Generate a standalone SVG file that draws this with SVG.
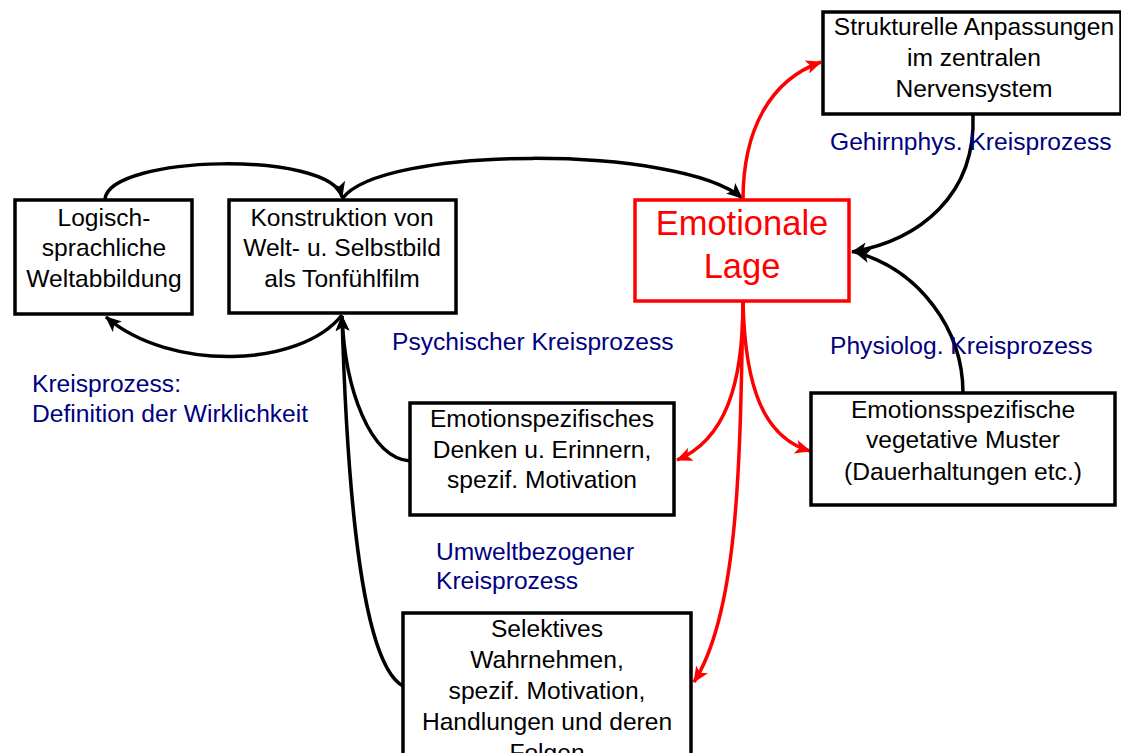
<svg xmlns="http://www.w3.org/2000/svg" width="1121" height="753" viewBox="0 0 1121 753">
<defs>
<marker id="ab" markerUnits="userSpaceOnUse" markerWidth="16" markerHeight="14" refX="15" refY="7" orient="auto"><path d="M0,0 L16,7 L0,14 L4,7 Z" fill="#000"/></marker>
<marker id="ar" markerUnits="userSpaceOnUse" markerWidth="16" markerHeight="14" refX="15" refY="7" orient="auto"><path d="M0,0 L16,7 L0,14 L4,7 Z" fill="#ff0000"/></marker>
</defs>
<style>
text{font-family:"Liberation Sans",Arial,sans-serif;font-size:24.6px;}
.box{fill:#fff;stroke:#000;stroke-width:3.5;}
.t{fill:#000;text-anchor:middle;}
.lbl{fill:#000080;}
.cb{fill:none;stroke:#000;stroke-width:3.5;marker-end:url(#ab);}
.cr{fill:none;stroke:#ff0000;stroke-width:3.5;marker-end:url(#ar);}
</style>
<rect width="1121" height="753" fill="#fff"/>
<g id="connectors">
<path class="cb" d="M105,199 C110,155 330,150 342,197"/>
<path class="cb" d="M342,199 C380,145 680,145 742,198"/>
<path class="cb" d="M342,315 C300,368 170,372 106,317"/>
<path class="cb" d="M410,461 C370,458 345,390 342,316"/>
<path class="cb" d="M403,686 C365,665 348,520 342,316"/>
<path class="cr" d="M743,200 C743,130 770,80 821,62"/>
<path class="cb" d="M973,115 C976,195 920,240 852,252"/>
<path class="cb" d="M963,393 C963,330 920,270 855,252"/>
<path class="cr" d="M743,302 C743,385 725,440 677,460"/>
<path class="cr" d="M743,302 C745,390 765,438 810,451"/>
<path class="cr" d="M743,302 C740,450 740,610 694,682"/>
</g>
<g id="n-logisch">
<rect class="box" x="15" y="200" width="177" height="114"/>
<text class="t" x="104" y="226">Logisch-</text>
<text class="t" x="104" y="256">sprachliche</text>
<text class="t" x="104" y="287">Weltabbildung</text>
</g>
<g id="n-konstruktion">
<rect class="box" x="229" y="200" width="227" height="113"/>
<text class="t" x="342" y="226">Konstruktion von</text>
<text class="t" x="342" y="256">Welt- u. Selbstbild</text>
<text class="t" x="342" y="287">als Tonfühlfilm</text>
</g>
<g id="n-emotionale">
<rect x="635" y="200" width="214" height="101" fill="#fff" stroke="#ff0000" stroke-width="3.5"/>
<text x="742" y="235" fill="#ff0000" text-anchor="middle" style="font-size:34.5px">Emotionale</text>
<text x="742" y="278" fill="#ff0000" text-anchor="middle" style="font-size:34.5px">Lage</text>
</g>
<g id="n-strukturelle">
<rect class="box" x="823" y="12" width="298" height="102"/>
<text class="t" x="974" y="35">Strukturelle Anpassungen</text>
<text class="t" x="974" y="66">im zentralen</text>
<text class="t" x="974" y="97">Nervensystem</text>
</g>
<g id="n-denken">
<rect class="box" x="410" y="403" width="264" height="112"/>
<text class="t" x="542" y="427">Emotionspezifisches</text>
<text class="t" x="542" y="458">Denken u. Erinnern,</text>
<text class="t" x="542" y="488">spezif. Motivation</text>
</g>
<g id="n-vegetativ">
<rect class="box" x="811" y="393" width="304" height="112"/>
<text class="t" x="963" y="418">Emotionsspezifische</text>
<text class="t" x="963" y="448">vegetative Muster</text>
<text class="t" x="963" y="480">(Dauerhaltungen etc.)</text>
</g>
<g id="n-selektiv">
<rect class="box" x="403" y="613" width="288" height="160"/>
<text class="t" x="547" y="637">Selektives</text>
<text class="t" x="547" y="668">Wahrnehmen,</text>
<text class="t" x="547" y="699">spezif. Motivation,</text>
<text class="t" x="547" y="730">Handlungen und deren</text>
<text class="t" x="547" y="761">Folgen</text>
</g>
<g id="labels">
<text class="lbl" x="830" y="150">Gehirnphys. Kreisprozess</text>
<text class="lbl" x="392" y="350">Psychischer Kreisprozess</text>
<text class="lbl" x="830" y="354">Physiolog. Kreisprozess</text>
<text class="lbl" x="32" y="392">Kreisprozess:</text>
<text class="lbl" x="32" y="422">Definition der Wirklichkeit</text>
<text class="lbl" x="436" y="560">Umweltbezogener</text>
<text class="lbl" x="436" y="589">Kreisprozess</text>
</g>
</svg>
